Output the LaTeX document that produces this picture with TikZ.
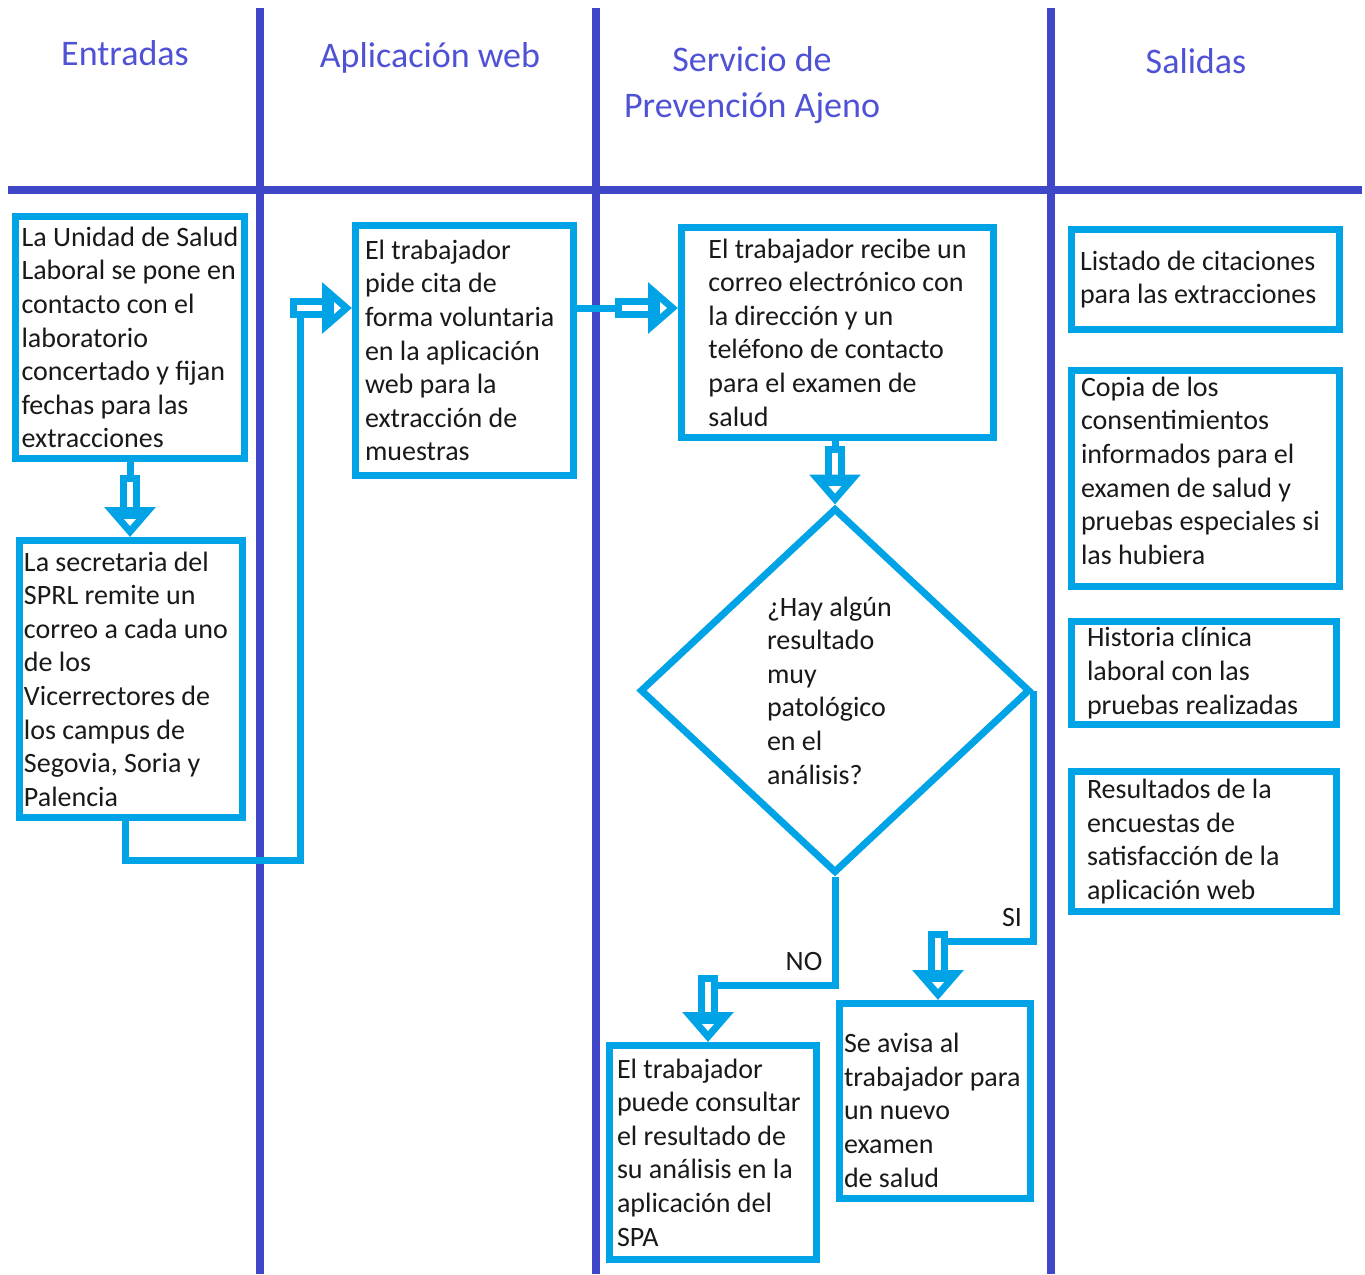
\documentclass[tikz,border=0pt]{standalone}
\usepackage{fontspec}
\setmainfont{Carlito}
\usetikzlibrary{shapes.geometric,arrows.meta}
\definecolor{lanecol}{RGB}{64,70,200}
\definecolor{titlecol}{RGB}{80,82,214}
\definecolor{flowcol}{RGB}{0,164,230}
\definecolor{txtcol}{RGB}{25,25,25}

\begin{document}
\begin{tikzpicture}[x=0.5pt,y=-0.5pt,
	lane/.style={draw=lanecol,line width=4pt},
	title/.style={text=titlecol,font=\fontsize{18}{23}\selectfont,align=center,anchor=base},
	box/.style={draw=flowcol,line width=3.5pt,inner sep=0pt,align=flush left,text=txtcol,font=\fontsize{14}{16.8}\selectfont},
	flow/.style={draw=flowcol,line width=3.5pt},
	blockarrow/.style={draw=flowcol,line width=3.5pt,double=white,double distance=3pt,line cap=rect,
		-{Triangle[open,length=15pt,width=25pt,line width=3.5pt]}},
	lbl/.style={text=txtcol,font=\fontsize{14}{16.8}\selectfont,anchor=base}]
	\path[use as bounding box,fill=white] (0,0) rectangle (1365,1274);
	% swimlanes
	\draw[lane] (8,190) -- (1362,190);
	\draw[lane] (260,8) -- (260,1274);
	\draw[lane] (596,8) -- (596,1274);
	\draw[lane] (1051,8) -- (1051,1274);
	\node[title] (tin) at (125,65) {Entradas};
	\node[title] (tweb) at (430,67) {Aplicación web};
	\node[title] (tspa) at (752,117) {Servicio de\\Prevención Ajeno};
	\node[title] (tout) at (1196,73) {Salidas};
	% entradas
	\node[box,minimum width=114.5pt,minimum height=121pt] (uni) at (130,337.5) {La Unidad de Salud\\Laboral se pone en\\contacto con el\\laboratorio\\concertado y fijan\\fechas para las\\extracciones};
	\node[box,text width=107pt,minimum width=111.5pt,minimum height=138.5pt] (sec) at (131,679) {La secretaria del\\SPRL remite un\\correo a cada uno\\de los\\Vicerrectores de\\los campus de\\Segovia, Soria y\\Palencia};
	% aplicacion web
	\node[box,text width=99.5pt,minimum width=109pt,minimum height=125pt] (pide) at (464.5,350.5) {El trabajador\\pide cita de\\forma voluntaria\\en la aplicación\\web para la\\extracción de\\muestras};
	% servicio de prevencion
	\node[box,minimum width=156pt,minimum height=105pt] (rec) at (837.5,332.5) {El trabajador recibe un\\correo electrónico con\\la dirección y un\\teléfono de contacto\\para el examen de\\salud};
	\node[box,diamond,text width=68pt,minimum width=195pt,minimum height=182.5pt] (dia) at (835,690.5) {¿Hay algún\\resultado\\muy\\patológico\\en el\\análisis?};
	\node[box,text width=96pt,minimum width=103.5pt,minimum height=107pt] (cons) at (713,1152.5) {El trabajador\\puede consultar\\el resultado de\\su análisis en la\\aplicación del\\SPA};
	\node[box,text width=91pt,minimum width=95.5pt,minimum height=97.5pt] (aviso) at (935,1101) {\rule{0pt}{19pt}Se avisa al\\trabajador para\\un nuevo\\examen\\de salud};
	% salidas
	\node[box,text width=125.5pt,minimum width=134pt,minimum height=50pt] (sal1) at (1205.5,279.5) {Listado de citaciones\\para las extracciones};
	\node[box,text width=124.5pt,minimum width=134pt,minimum height=108pt] (sal2) at (1205.5,478.5) {Copia de los\\consentimientos\\informados para el\\examen de salud y\\pruebas especiales si\\las hubiera\rule[-8pt]{0pt}{8pt}};
	\node[box,text width=117pt,minimum width=132.5pt,minimum height=51.5pt] (sal3) at (1204,673) {Historia clínica\\laboral con las\\pruebas realizadas};
	\node[box,text width=117pt,minimum width=132.5pt,minimum height=70pt] (sal4) at (1204,841.5) {Resultados de la\\encuestas de\\satisfacción de la\\aplicación web};
	% connectors
	\coordinate (k1) at (130,485);
	\draw[flow] (uni.south -| k1) -- (k1);
	\draw[blockarrow] (k1) -- (sec.north -| k1);
	\coordinate (k2) at (125,860);
	\coordinate (k3) at (300,860);
	\coordinate (k4) at (300,308);
	\draw[flow] (sec.south -| k2) -- (k2) -- (k3) -- (k4);
	\draw[blockarrow] (k4) -- (pide.west |- k4);
	\coordinate (k5) at (625,308);
	\draw[flow] (pide.east |- k5) -- (k5);
	\draw[blockarrow] (k5) -- (rec.west |- k5);
	\coordinate (k6) at (835,456);
	\draw[flow] (rec.south -| k6) -- (k6);
	\draw[blockarrow] (k6) -- (dia.north);
	\coordinate (k7) at (708,985);
	\draw[flow] (dia.south) |- (k7);
	\draw[blockarrow] (k7) -- (cons.north -| k7);
	\coordinate (k8) at (938,941);
	\draw[flow] (dia.east) |- (k8);
	\draw[blockarrow] (k8) -- (aviso.north -| k8);
	\node[lbl] (no) at (804,970) {NO};
	\node[lbl] (si) at (1012,926) {SI};
\end{tikzpicture}
\end{document}
